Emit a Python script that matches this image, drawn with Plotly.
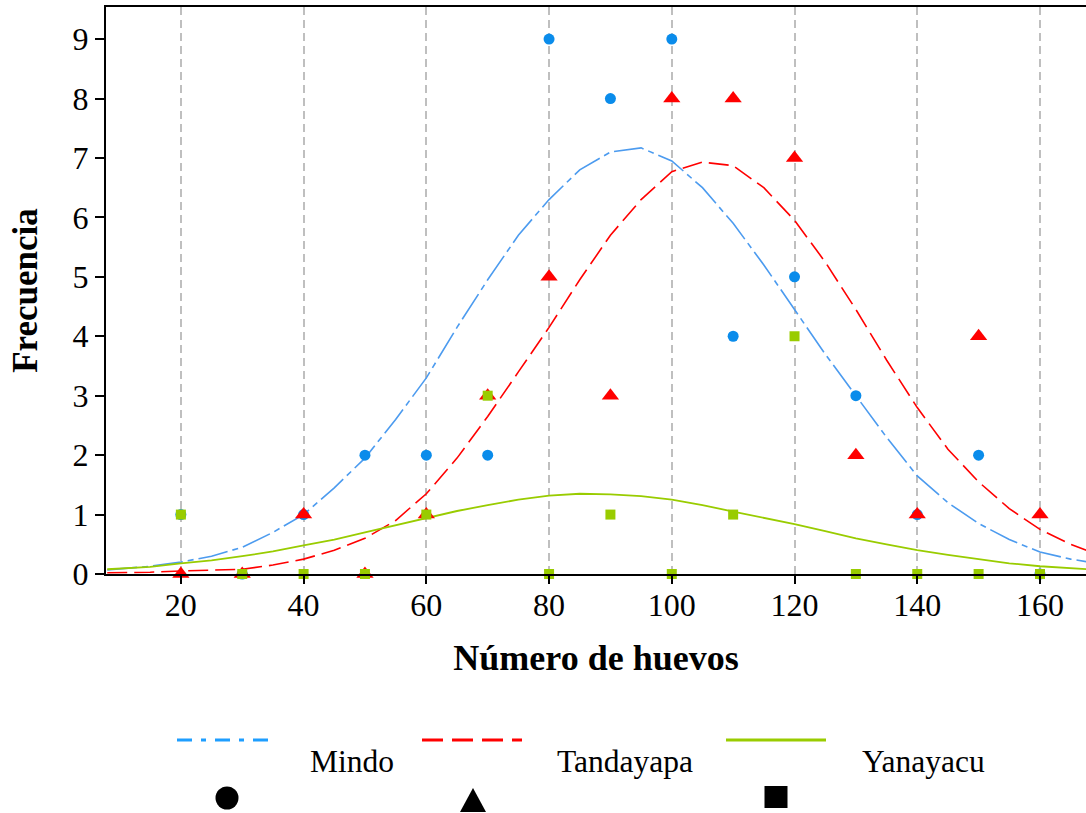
import plotly.graph_objects as go

# ---------------- data ----------------
x_obs = [20, 30, 40, 50, 60, 70, 80, 90, 100, 110, 120, 130, 140, 150, 160]
mindo_obs = [1, 0, 1, 2, 2, 2, 9, 8, 9, 4, 5, 3, 1, 2, 0]
tanda_obs = [0, 0, 1, 0, 1, 3, 5, 3, 8, 8, 7, 2, 1, 4, 1]
yana_obs = [1, 0, 0, 0, 1, 3, 0, 1, 0, 1, 4, 0, 0, 0, 0]

x_fit = [8, 15, 20, 25, 30, 35, 40, 45, 50, 55, 60, 65, 70, 75, 80, 85, 90, 95,
         100, 105, 110, 115, 120, 125, 130, 135, 140, 145, 150, 155, 160, 165, 168]
mindo_fit = [0.07, 0.13, 0.2, 0.3, 0.45, 0.7, 1.0, 1.45, 1.95, 2.6, 3.3, 4.15, 4.95,
             5.7, 6.3, 6.8, 7.1, 7.17, 6.95, 6.5, 5.9, 5.2, 4.45, 3.7, 3.0, 2.3,
             1.65, 1.2, 0.85, 0.58, 0.37, 0.25, 0.2]
tanda_fit = [0.02, 0.03, 0.05, 0.06, 0.08, 0.15, 0.25, 0.4, 0.6, 0.9, 1.35, 1.95,
             2.65, 3.4, 4.15, 4.95, 5.7, 6.3, 6.77, 6.93, 6.87, 6.5, 5.95, 5.25,
             4.45, 3.6, 2.8, 2.1, 1.55, 1.1, 0.75, 0.5, 0.38]
yana_fit = [0.08, 0.12, 0.18, 0.23, 0.3, 0.38, 0.48, 0.58, 0.7, 0.82, 0.95, 1.06,
            1.16, 1.25, 1.32, 1.35, 1.34, 1.31, 1.25, 1.16, 1.05, 0.95, 0.84, 0.72,
            0.6, 0.5, 0.4, 0.32, 0.25, 0.18, 0.13, 0.1, 0.08]

series_names = ["Mindo", "Tandayapa", "Yanayacu"]
x_ticks = [20, 40, 60, 80, 100, 120, 140, 160]
y_ticks = [0, 1, 2, 3, 4, 5, 6, 7, 8, 9]

# ---------------- styles ----------------
BLUE_LINE = "#4C9BEF"
BLUE_MK = "#0A8CEB"
RED = "#FF0000"
GREEN = "#99CC00"
FONT = "Liberation Serif"

W, H = 1086, 813
L, R, T, B = 106, 0, 7, 239
PW = W - L - R
PH = H - T - B


def px(xp):
    return (xp - L) / PW


def py(yp):
    return (H - B - yp) / PH


fig = go.Figure()

fig.add_trace(go.Scatter(x=x_fit, y=mindo_fit, mode="lines",
                         line=dict(color=BLUE_LINE, width=1.6, dash="30px,5px,6px,5px"),
                         showlegend=False))
fig.add_trace(go.Scatter(x=x_fit, y=tanda_fit, mode="lines",
                         line=dict(color=RED, width=1.6, dash="20px,7px"),
                         showlegend=False))
fig.add_trace(go.Scatter(x=x_fit, y=yana_fit, mode="lines",
                         line=dict(color=GREEN, width=1.8),
                         showlegend=False))

fig.add_trace(go.Scatter(x=x_obs, y=mindo_obs, mode="markers", cliponaxis=False,
                         marker=dict(symbol="circle", size=11, color=BLUE_MK),
                         showlegend=False))
fig.add_trace(go.Scatter(x=x_obs, y=tanda_obs, mode="markers", cliponaxis=False,
                         marker=dict(symbol="triangle-up", size=15, color=RED),
                         showlegend=False))
fig.add_trace(go.Scatter(x=x_obs, y=yana_obs, mode="markers", cliponaxis=False,
                         marker=dict(symbol="square", size=10, color=GREEN),
                         showlegend=False))

# ---------------- custom legend ----------------
shapes = []
annotations = []
leg_lines = [(177, 277, "#1E9EFF", "15px,9px,5px,9px"),
             (422, 522, RED, "21px,9px"),
             (726, 826, GREEN, "solid")]
leg_text_x = [308, 555, 860]
ly = 740
for (x0, x1, col, dash), tx, name in zip(leg_lines, leg_text_x, series_names):
    shapes.append(dict(type="line", xref="paper", yref="paper",
                       x0=px(x0), x1=px(x1), y0=py(ly), y1=py(ly),
                       line=dict(color=col, width=3, dash=dash)))
    annotations.append(dict(text=name, xref="paper", yref="paper",
                            x=px(tx), y=py(761), xanchor="left", yanchor="middle",
                            showarrow=False, font=dict(family=FONT, size=31.5, color="black")))

# circle marker
shapes.append(dict(type="circle", xref="paper", yref="paper",
                   xsizemode="pixel", ysizemode="pixel",
                   xanchor=px(227), yanchor=py(798),
                   x0=-11.5, x1=11.5, y0=-11.5, y1=11.5,
                   fillcolor="black", line=dict(width=0)))
# triangle marker
shapes.append(dict(type="path", xref="paper", yref="paper",
                   xsizemode="pixel", ysizemode="pixel",
                   xanchor=px(473), yanchor=py(800),
                   path="M -13,-12 L 13,-12 L 0,12 Z",
                   fillcolor="black", line=dict(width=0)))
# square marker
shapes.append(dict(type="rect", xref="paper", yref="paper",
                   xsizemode="pixel", ysizemode="pixel",
                   xanchor=px(776), yanchor=py(797),
                   x0=-11.5, x1=11.5, y0=-11, y1=11,
                   fillcolor="black", line=dict(width=0)))

fig.update_layout(
    width=W, height=H,
    margin=dict(l=L, r=R, t=T, b=B, pad=0),
    paper_bgcolor="white", plot_bgcolor="white",
    font=dict(family=FONT, size=32, color="black"),
    showlegend=False,
    shapes=shapes,
    annotations=annotations,
    xaxis=dict(
        range=[7.8, 167.5], tickvals=x_ticks, ticktext=[str(v) for v in x_ticks],
        showline=True, linecolor="black", linewidth=2, mirror=True,
        ticks="outside", ticklen=8, tickwidth=1.5, tickcolor="black",
        ticklabelstandoff=-6,
        showgrid=True, gridcolor="#BFBFBF", gridwidth=1.5, griddash="8px,5px",
        zeroline=False,
        tickfont=dict(family=FONT, size=32, color="black"),
        title=dict(text="<b>Número de huevos</b>", standoff=22,
                   font=dict(family=FONT, size=36, color="black")),
    ),
    yaxis=dict(
        range=[0, 9.54], tickvals=y_ticks,
        showline=True, linecolor="black", linewidth=2,
        ticks="outside", ticklen=9, tickwidth=1.5, tickcolor="black",
        showgrid=False, zeroline=False,
        tickfont=dict(family=FONT, size=32, color="black"),
        title=dict(text="<b>Frecuencia</b>", standoff=24,
                   font=dict(family=FONT, size=35, color="black")),
    ),
)

fig.write_html("out.html")
